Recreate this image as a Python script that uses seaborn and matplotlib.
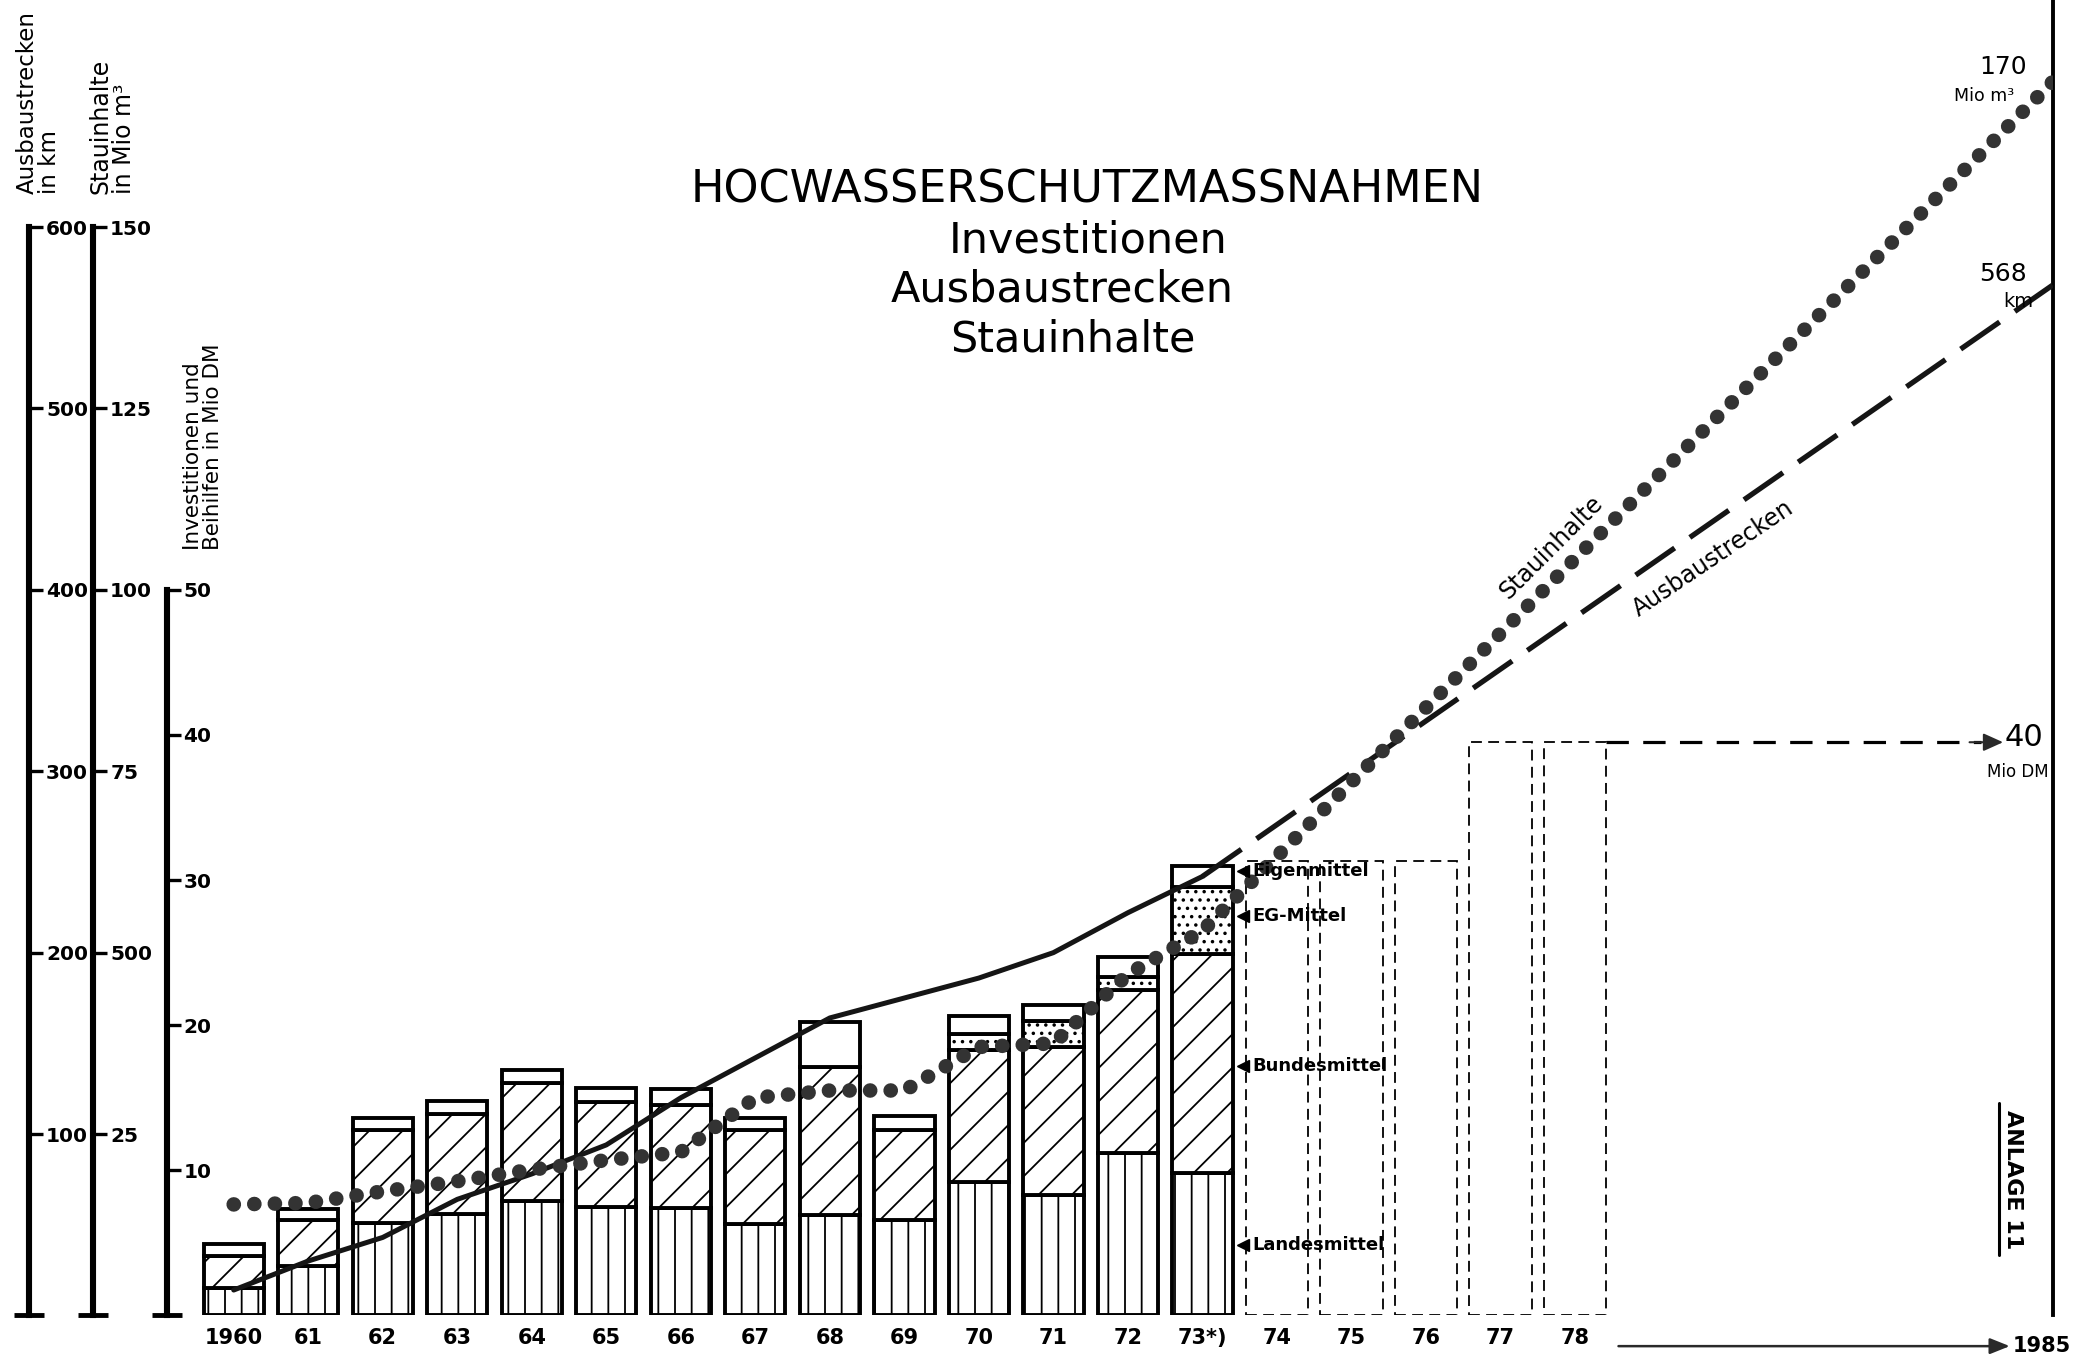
import numpy as np
import matplotlib
matplotlib.use("Agg")
import matplotlib.pyplot as plt
from matplotlib.ticker import FixedLocator
from matplotlib.lines import Line2D
import seaborn as sns

# ---------------- data ----------------
YEARS = [1960, 1961, 1962, 1963, 1964, 1965, 1966, 1967, 1968, 1969, 1970, 1971, 1972, 1973]
YEAR_LABELS = ["1960", "61", "62", "63", "64", "65", "66", "67", "68", "69", "70", "71", "72", "73*)"]
LANDESMITTEL = [1.9, 3.4, 6.4, 7.0, 7.9, 7.5, 7.4, 6.3, 6.9, 6.6, 9.2, 8.3, 11.2, 9.8]
BUNDESMITTEL = [2.2, 3.2, 6.4, 6.9, 8.1, 7.2, 7.1, 6.5, 10.2, 6.2, 9.1, 10.2, 11.2, 15.1]
EG_MITTEL = [0, 0, 0, 0, 0, 0, 0, 0, 0, 0, 1.1, 1.8, 0.9, 4.6]
EIGENMITTEL = [0.85, 0.7, 0.8, 0.9, 0.9, 1.0, 1.1, 0.8, 3.1, 0.95, 1.2, 1.1, 1.4, 1.5]

PLAN_YEARS = [1974, 1975, 1976, 1977, 1978]
PLAN_LABELS = ["74", "75", "76", "77", "78"]
PLAN_INVEST = [31.3, 31.3, 31.3, 39.5, 39.5]

TARGET_YEAR = 1985
TARGET_INVEST = 40

AUSBAU_KM = [14, 30, 43, 64, 78, 94, 120, 142, 164, 175, 186, 200, 222, 242]
AUSBAU_TARGET_KM = 568
STAU_MIO_M3 = [15.3, 15.5, 17.1, 18.5, 20.1, 21.4, 22.5, 30.0, 31.0, 31.0, 37.0, 37.5, 47.0, 53.0]
STAU_TARGET = 170

KM_TICKS = [100, 200, 300, 400, 500, 600]
STAU_TICKS = [25, 50, 75, 100, 125, 150]
STAU_TICK_LABELS = ["25", "500", "75", "100", "125", "150"]
INVEST_TICKS = [10, 20, 30, 40, 50]
SEGMENT_NAMES = ["Eigenmittel", "EG-Mittel", "Bundesmittel", "Landesmittel"]

# ---------------- style ----------------
sns.set_theme(style="white")
plt.rcParams.update({
    "font.family": ["DejaVu Sans"],
    "font.weight": "bold",
    "hatch.linewidth": 1.3,
    "text.color": "black",
})

W, H, DPI = 2094, 1359, 100
S = W / 1568.0
fig = plt.figure(figsize=(W / DPI, H / DPI), dpi=DPI)
fig.patch.set_facecolor("white")


def fx(px):
    return px * S / W


def fy(py):
    return 1.0 - py * S / H


X_LEFT_PX, X_RIGHT_PX, BASE_PX = 125, 1537, 985
ax = fig.add_axes([fx(X_LEFT_PX), fy(BASE_PX), fx(X_RIGHT_PX) - fx(X_LEFT_PX), 1.0 - fy(BASE_PX)])
ax_km = ax.twinx()
ax_st = ax.twinx()

X_END = 24.41          # position of 1985 at the right border (compressed time axis)
X_START = -0.896


def xpos(years):
    y = np.asarray(years, dtype=float)
    return np.where(y <= 1978, y - 1960, 18 + (y - 1978) * (X_END - 18) / (1985 - 1978))


KM_TOP = 725.2
ax.set_ylim(0, KM_TOP / 8)
ax_km.set_ylim(0, KM_TOP)
ax_st.set_ylim(0, KM_TOP / 4)

# ---------------- bars ----------------
x = xpos(YEARS)
lan = np.array(LANDESMITTEL)
bun = np.array(BUNDESMITTEL)
eg = np.array(EG_MITTEL)
eig = np.array(EIGENMITTEL)
bar_kw = dict(width=0.81, edgecolor="black", linewidth=2.8, facecolor="white", zorder=2)
ax.bar(x, lan, hatch="|", **bar_kw)
ax.bar(x, bun, bottom=lan, hatch="/", **bar_kw)
ax.bar(x, eg, bottom=lan + bun, hatch="..", **bar_kw)
ax.bar(x, eig, bottom=lan + bun + eg, **bar_kw)

ax.bar(xpos(PLAN_YEARS), PLAN_INVEST, width=0.84, fill=False, edgecolor="black",
       linewidth=1.3, linestyle=(0, (6, 3.5)), zorder=2)

# ---------------- lines ----------------
xs_all = np.append(xpos(YEARS), xpos([TARGET_YEAR]))
sns.lineplot(x=xpos(YEARS), y=AUSBAU_KM, ax=ax_km, color="#151515", linewidth=3.6,
             estimator=None, sort=False, solid_capstyle="round")
sns.lineplot(x=xpos([YEARS[-1], TARGET_YEAR]), y=[AUSBAU_KM[-1], AUSBAU_TARGET_KM], ax=ax_km,
             color="#151515", linewidth=3.8, linestyle=(0, (9, 3.5)), estimator=None, sort=False)
sns.lineplot(x=xs_all, y=STAU_MIO_M3 + [STAU_TARGET], ax=ax_st, color="#333333", linewidth=10.5,
             linestyle=(0, (0.01, 1.4)), dash_capstyle="round", estimator=None, sort=False)
for a in (ax, ax_km, ax_st):
    a.set_xlabel("")
    a.set_ylabel("")
    if a.get_legend() is not None:
        a.get_legend().remove()


# ---------------- axes styling ----------------
def style_axis(a, pos, top, ticks, labels=None):
    for s in a.spines.values():
        s.set_visible(False)
    sp = a.spines["right"]
    sp.set_visible(True)
    sp.set_position(("axes", pos))
    sp.set_bounds(0, top)
    sp.set_linewidth(4.4)
    sp.set_color("black")
    a.yaxis.set_ticks_position("right")
    a.set_yticks(ticks)
    a.set_yticklabels(labels if labels is not None else [str(t) for t in ticks],
                      fontweight="bold")
    a.yaxis.set_minor_locator(FixedLocator([0]))
    a.tick_params(axis="y", which="major", direction="out", length=10, width=2.4, pad=2,
                  labelsize=14.5, colors="black")
    a.tick_params(axis="y", which="minor", direction="inout", length=22, width=3.5, colors="black")


style_axis(ax, 0.0, 50, INVEST_TICKS)
style_axis(ax_km, (22 - X_LEFT_PX) / (X_RIGHT_PX - X_LEFT_PX), 600, KM_TICKS)
style_axis(ax_st, (70 - X_LEFT_PX) / (X_RIGHT_PX - X_LEFT_PX), 150, STAU_TICKS, STAU_TICK_LABELS)

# right border line
ax.spines["left"].set_visible(True)
ax.spines["left"].set_position(("axes", 1.0))
ax.spines["left"].set_linewidth(2.8)
ax.spines["left"].set_color("black")

ax.set_xticks(xpos(YEARS + PLAN_YEARS))
ax.set_xticklabels(YEAR_LABELS + PLAN_LABELS, fontweight="bold")
ax.xaxis.set_ticks_position("bottom")
ax.tick_params(axis="x", length=0, pad=9, labelsize=15, colors="black")
ax.set_xlim(X_START, X_END)
ax.grid(False); ax_km.grid(False); ax_st.grid(False)

# ---------------- texts ----------------
NRM = dict(fontweight="normal")
fig.text(fx(814), fy(142), "HOCWASSERSCHUTZMASSNAHMEN", ha="center", va="center", fontsize=32, **NRM)
fig.text(fx(815), fy(180), "Investitionen", ha="center", va="center", fontsize=31, **NRM)
fig.text(fx(795), fy(217), "Ausbaustrecken", ha="center", va="center", fontsize=31, **NRM)
fig.text(fx(803), fy(254), "Stauinhalte", ha="center", va="center", fontsize=31, **NRM)

fig.text(fx(29), fy(145), "Ausbaustrecken\nin km", rotation=90, ha="center", va="bottom",
         multialignment="left", fontsize=16.5, linespacing=0.95, **NRM)
fig.text(fx(84), fy(145), "Stauinhalte\nin Mio m³", rotation=90, ha="center", va="bottom",
         multialignment="left", fontsize=17, linespacing=0.95, **NRM)
fig.text(fx(152), fy(412), "Investitionen und\nBeihilfen in Mio DM", rotation=90, ha="center",
         va="bottom", multialignment="left", fontsize=15.5, linespacing=0.95, **NRM)

# line labels
fig.text(fx(1162), fy(410), "Stauinhalte", rotation=45, rotation_mode="anchor", ha="center",
         va="center", fontsize=17, **NRM)
fig.text(fx(1283), fy(418), "Ausbaustrecken", rotation=34, rotation_mode="anchor", ha="center",
         va="center", fontsize=17, **NRM)

# end values
fig.text(fx(1500), fy(50), str(STAU_TARGET), ha="center", va="center", fontsize=18, **NRM)
fig.text(fx(1486), fy(72), "Mio m³", ha="center", va="center", fontsize=12.5, **NRM)
fig.text(fx(1500), fy(205), str(AUSBAU_TARGET_KM), ha="center", va="center", fontsize=18, **NRM)
fig.text(fx(1511), fy(226), "km", ha="center", va="center", fontsize=14, **NRM)

# segment labels with small arrowheads
seg_y_px = [652, 686, 798, 932]
for name, ypx in zip(SEGMENT_NAMES, seg_y_px):
    fig.text(fx(938), fy(ypx), name, ha="left", va="center", fontsize=13, fontweight="bold")
    fig.add_artist(Line2D([fx(931)], [fy(ypx)], marker="<", markersize=8, color="black",
                          transform=fig.transFigure))

# target 40 Mio DM
x_from = xpos([PLAN_YEARS[-1]])[0] + 0.42
x_tip = (1500 - 175) / 55.8
ax.plot([x_from, x_tip - 0.3], [PLAN_INVEST[-1]] * 2, color="black", lw=2.3,
        ls=(0, (7, 4.5)), zorder=3, clip_on=False)
ax.annotate("", xy=(x_tip, PLAN_INVEST[-1]), xytext=(x_tip - 0.45, PLAN_INVEST[-1]),
            arrowprops=dict(arrowstyle="-|>,head_length=1.0,head_width=0.45", color="#2a2a2a",
                            lw=1.5, shrinkA=0, shrinkB=0), annotation_clip=False)
ax.text(x_tip + 0.02, PLAN_INVEST[-1] + 0.3, str(TARGET_INVEST), ha="left", va="center",
        fontsize=22, **NRM)
fig.text(fx(1511), fy(578), "Mio DM", ha="center", va="center", fontsize=12, **NRM)

# time axis arrow to 1985
ax.annotate("", xy=((1505 - 175) / 55.8, fy(1008)), xytext=((1212 - 175) / 55.8, fy(1008)),
            xycoords=("data", "figure fraction"), textcoords=("data", "figure fraction"),
            arrowprops=dict(arrowstyle="-|>,head_length=1.0,head_width=0.4", color="#2a2a2a",
                            lw=1.8, shrinkA=0, shrinkB=0), annotation_clip=False)
fig.text(fx(1507), fy(1008), str(TARGET_YEAR), ha="left", va="center", fontsize=15, fontweight="bold")

# ANLAGE 11
fig.text(fx(1507), fy(883), "ANLAGE 11", rotation=-90, ha="center", va="center", fontsize=16,
         fontweight="bold")
fig.add_artist(Line2D([fx(1497), fx(1497)], [fy(826), fy(940)], color="black", lw=2.2,
                      transform=fig.transFigure))

fig.savefig("out.png", dpi=DPI, facecolor="white")
